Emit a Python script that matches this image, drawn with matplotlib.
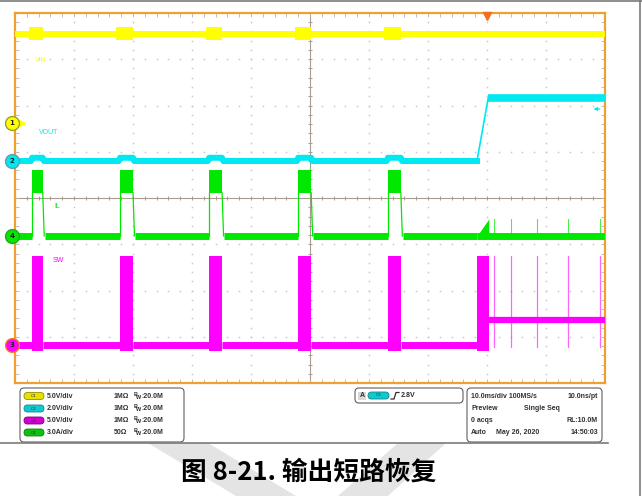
import matplotlib.pyplot as plt
import matplotlib.transforms as mtransforms
from matplotlib.patches import FancyBboxPatch, Polygon

# --- scope settings (10 ms/div, 10 x 8 divisions) ---
t_min, t_max = -50.0, 50.0
div_min, div_max = -4.0, 4.0

# hiccup pulses while the output is shorted (ms)
pulse_on = [-47.1, -32.2, -17.1, -2.0, 13.2]
pulse_off = [-45.3, -30.0, -14.9, 0.2, 15.4]
# last restart, short removed
restart_on, restart_off = 28.3, 30.3
# single switching pulses after recovery (ms)
spike_t = [31.2, 34.1, 38.5, 43.7, 49.2]

# channels: C1 VIN, C2 VOUT, C3 SW, C4 IL
ch_scale = [5.0, 2.0, 5.0, 3.0]          # units / div
ch_offset = [1.62, 0.80, -3.18, -0.82]   # ground marker, div
ch_color = ['#ffff00', '#00e8f0', '#ff00ff', '#00e800']
ch_label = ['VIN', 'VOUT', 'SW', 'IL']
ch_label_t = [-46.6, -45.9, -43.6, -43.4]
ch_label_div = [2.98, 1.41, -1.36, -0.19]

# levels
vin_level = 9.6
vin_bump = (9.0, 10.4)
vout_low, vout_bump, vout_high = 0.0, 0.14, 2.72
sw_low, sw_high, sw_after = 0.0, 9.6, 2.7
il_low, il_band, il_restart = 0.0, (2.8, 4.3), 1.1
trig_t, trig_level = 30.0, 2.25

info_rows = [('C1', '5.0V/div', '1M\u03a9'), ('C2', '2.0V/div', '1M\u03a9'),
             ('C3', '5.0V/div', '1M\u03a9'), ('C4', '3.0A/div', '50\u03a9')]


def to_div(v, ch):
    return v / ch_scale[ch] + ch_offset[ch]


fig = plt.figure(figsize=(6.42, 4.96), dpi=100)
W, H = 642, 496
ax = fig.add_axes([15 / W, 1 - 383 / H, 590 / W, 370 / H])
ax.set_xlim(t_min, t_max)
ax.set_ylim(div_min, div_max)

# graticule
grid_c = '#c8c8c8'
minor_x = [t_min + 2 * i for i in range(51)]
minor_y = [div_min + 0.2 * i for i in range(41)]
for gx in range(-40, 50, 10):
    if gx != 0:
        ax.plot([gx] * len(minor_y), minor_y, ls='none', marker='s', ms=1.1,
                mec='none', color=grid_c, zorder=1)
for gy in range(-3, 4):
    if gy != 0:
        ax.plot(minor_x, [gy] * len(minor_x), ls='none', marker='s', ms=1.1,
                mec='none', color=grid_c, zorder=1)
ax.axhline(0, color='#a89c90', lw=0.8, zorder=1)
ax.axvline(0, color='#a89c90', lw=0.8, zorder=1)
ax.plot(minor_x, [0] * len(minor_x), ls='none', marker='|', ms=3.5,
        color='#a89c90', mew=0.7, zorder=1)
ax.plot([0] * len(minor_y), minor_y, ls='none', marker='_', ms=3.5,
        color='#a89c90', mew=0.7, zorder=1)
ax.set_xticks(minor_x)
ax.set_yticks(minor_y)
ax.tick_params(direction='in', length=2.8, width=0.6, color='#b4b4b4',
               top=True, right=True, labelleft=False, labelbottom=False)
for s in ax.spines.values():
    s.set_color('#f0a030')
    s.set_linewidth(1.6)

# --- C3: SW ---
c = ch_color[2]
seg_t = [t_min] + [x for p in zip(pulse_on, pulse_off) for x in p] + [restart_on]
for a, b in zip(seg_t[0::2], seg_t[1::2]):
    ax.plot([a, b], [to_div(sw_low, 2)] * 2, color=c, lw=5, solid_capstyle='butt', zorder=3)
for a, b in zip(pulse_on + [restart_on], pulse_off + [restart_off]):
    lo, hi = to_div(sw_low - 0.6, 2), to_div(sw_high, 2)
    ax.bar((a + b) / 2, hi - lo, width=b - a, bottom=lo, color=c, zorder=3)
ax.plot([restart_off, t_max], [to_div(sw_after, 2)] * 2, color=c, lw=4.5,
        solid_capstyle='butt', zorder=3)
for st in spike_t:
    ax.plot([st, st], [to_div(-0.2, 2), to_div(sw_high, 2)], color=c, lw=0.9,
            alpha=0.6, zorder=3)

# --- C4: IL ---
c = ch_color[3]
for a, b in zip(seg_t[0::2], seg_t[1::2]):
    a2 = a + 0.3 if a > t_min else a
    ax.plot([a2, b], [to_div(il_low, 3)] * 2, color=c, lw=5, solid_capstyle='butt', zorder=3)
for a, b in zip(pulse_on, pulse_off):
    lo, hi = to_div(il_band[0], 3), to_div(il_band[1], 3)
    ax.bar((a + b) / 2, hi - lo, width=b - a, bottom=lo, color=c, zorder=3)
    ax.plot([a, a], [to_div(il_low, 3), lo], color=c, lw=0.9, zorder=3)
    ax.plot([b, b + 0.25], [lo, to_div(il_low, 3)], color=c, lw=0.9, zorder=3)
ax.fill_between([restart_on, restart_off, restart_off],
                [to_div(il_low, 3)] * 3,
                [to_div(il_low, 3), to_div(il_restart, 3), to_div(il_low, 3)],
                color=c, lw=0, zorder=3)
ax.plot([restart_on, t_max], [to_div(il_low, 3)] * 2, color=c, lw=5,
        solid_capstyle='butt', zorder=3)
for st in spike_t:
    ax.plot([st, st], [to_div(il_low, 3), to_div(il_restart, 3)], color=c, lw=0.8,
            alpha=0.7, zorder=3)

# --- C2: VOUT ---
c = ch_color[1]
vt = [t_min]
vv = [vout_low]
for a, b in zip(pulse_on, pulse_off):
    vt += [a - 0.2, a, b, b + 0.2]
    vv += [vout_low, vout_bump, vout_bump, vout_low]
vt += [restart_on]
vv += [vout_low]
ax.plot(vt, [to_div(v, 1) for v in vv], color=c, lw=4.3, zorder=4)
ax.plot([restart_on, restart_off - 0.1], [to_div(vout_low, 1), to_div(vout_high, 1)],
        color=c, lw=1.2, zorder=4)
ax.plot([restart_off - 0.1, t_max], [to_div(vout_high, 1)] * 2, color=c, lw=5.5,
        solid_capstyle='butt', zorder=4)

# --- C1: VIN ---
c = ch_color[0]
ax.plot([t_min, t_max], [to_div(vin_level, 0)] * 2, color=c, lw=4.3, zorder=4)
for a, b in zip(pulse_on, pulse_off):
    lo, hi = to_div(vin_bump[0], 0), to_div(vin_bump[1], 0)
    ax.bar((a + b) / 2 - 0.3, hi - lo, width=b - a + 0.6, bottom=lo, color=c, zorder=4)

# channel labels
for i in range(4):
    ax.text(ch_label_t[i], ch_label_div[i], ch_label[i], color=ch_color[i],
            fontsize=5, va='center', ha='left', family='Liberation Sans', zorder=5)

# ground markers at the left edge
blend = mtransforms.blended_transform_factory(ax.transAxes, ax.transData)
ring = ['#a0a020', '#60a0b0', '#f08020', '#30a030']
for i, num in zip(range(4), ['1', '2', '3', '4']):
    y = ch_offset[i]
    if i == 0:
        ax.plot([0.012], [y], marker='>', ms=4, color=ch_color[i], transform=blend,
                clip_on=False, zorder=6)
    ax.plot([-0.005], [y], marker='o', ms=10, mfc=ch_color[i], mec=ring[i], mew=1,
            transform=blend, clip_on=False, zorder=7)
    ax.text(-0.005, y, num, transform=blend, fontsize=5, weight='bold', color='#202020',
            ha='center', va='center', zorder=8, clip_on=False)

# trigger position and level
ax.plot([trig_t], [div_max - 0.07], marker='v', ms=6, color='#f07020', clip_on=False, zorder=6)
ax.annotate('', xy=(47.6, to_div(trig_level, 1)), xytext=(49.6, to_div(trig_level, 1)),
            arrowprops=dict(arrowstyle='-|>', color=ch_color[1], lw=0.8,
                            mutation_scale=5), zorder=6)

# --- overlay: frame, info panels, caption ---
ov = fig.add_axes([0, 0, 1, 1], zorder=-1)
ov.set_xlim(0, W)
ov.set_ylim(H, 0)
ov.axis('off')

ov.add_patch(Polygon([(148, 443), (208, 443), (296, 496), (236, 496)],
                     closed=True, color='#e4e4e4', lw=0, zorder=0))
ov.add_patch(Polygon([(398, 443), (446, 443), (388, 496), (338, 496)],
                     closed=True, color='#e4e4e4', lw=0, zorder=0))

gray = '#7a7a7a'
ov.plot([0, W], [0.6, 0.6], color=gray, lw=1.2)
ov.plot([640, 640], [0, H], color=gray, lw=1.2)
ov.plot([0, 608], [443, 443], color=gray, lw=1.2)

txt = dict(fontsize=5, weight='bold', family='Liberation Sans', color='#303030', va='center')
box = dict(boxstyle='round,pad=0,rounding_size=4', fc='white', ec='#606060', lw=0.8)
ov.add_patch(FancyBboxPatch((20, 388), 164, 54, **box))
ov.add_patch(FancyBboxPatch((355, 388), 108, 15, **box))
ov.add_patch(FancyBboxPatch((467, 388), 135, 54, **box))

oval_c = ['#e8e000', '#10c8d0', '#d000d0', '#10c010']
oval_e = ['#909000', '#108890', '#800080', '#108010']
for k, r in zip(range(4), [396, 408.5, 420.5, 432.5]):
    name, vdiv, imp = info_rows[k]
    ov.add_patch(FancyBboxPatch((24, r - 3.5), 20, 7,
                                boxstyle='round,pad=0,rounding_size=3.5',
                                fc=oval_c[k], ec=oval_e[k], lw=0.6))
    ov.text(34, r, name, fontsize=3.2, ha='center', va='center', color='#303030')
    ov.text(47, r, vdiv, **txt)
    ov.text(114, r, imp, **txt)
    ov.text(134, r - 1.8, 'B', **{**txt, 'fontsize': 4})
    ov.text(136.5, r + 1.2, 'W', **{**txt, 'fontsize': 4})
    ov.text(141, r, ':20.0M', **txt)

# trigger panel
ov.add_patch(FancyBboxPatch((358, 391.5), 8, 8, boxstyle='square,pad=0',
                            fc='#d8d8d8', ec='none'))
ov.text(362, 395.5, 'A', **{**txt, 'ha': 'center'})
ov.add_patch(FancyBboxPatch((368, 392), 21, 7, boxstyle='round,pad=0,rounding_size=3.5',
                            fc='#10c8d0', ec='#108890', lw=0.6))
ov.text(378.5, 395.5, 'C2', fontsize=3.2, ha='center', va='center', color='#303030')
ov.plot([391, 394, 396, 399], [399, 399, 392.5, 392.5], color='#303030', lw=0.9)
ov.text(401, 395.5, '2.8V', **txt)

# acquisition panel
rows = [396, 408.5, 420.5, 432.5]
ov.text(471, rows[0], '10.0ms/div 100MS/s', **txt)
ov.text(598, rows[0], '10.0ns/pt', **{**txt, 'ha': 'right'})
ov.text(471, rows[1], 'Preview', **txt)
ov.text(524, rows[1], 'Single Seq', **txt)
ov.text(471, rows[2], '0 acqs', **txt)
ov.text(598, rows[2], 'RL:10.0M', **{**txt, 'ha': 'right'})
ov.text(471, rows[3], 'Auto', **txt)
ov.text(496, rows[3], 'May 26, 2020', **txt)
ov.text(598, rows[3], '14:50:03', **{**txt, 'ha': 'right'})

ov.text(309, 472, '图 8-21. 输出短路恢复', fontsize=18.5, weight='bold',
        family=['Noto Sans CJK SC', 'DejaVu Sans'], ha='center', va='center',
        color='black', zorder=3)

fig.savefig('out.png', dpi=100)
